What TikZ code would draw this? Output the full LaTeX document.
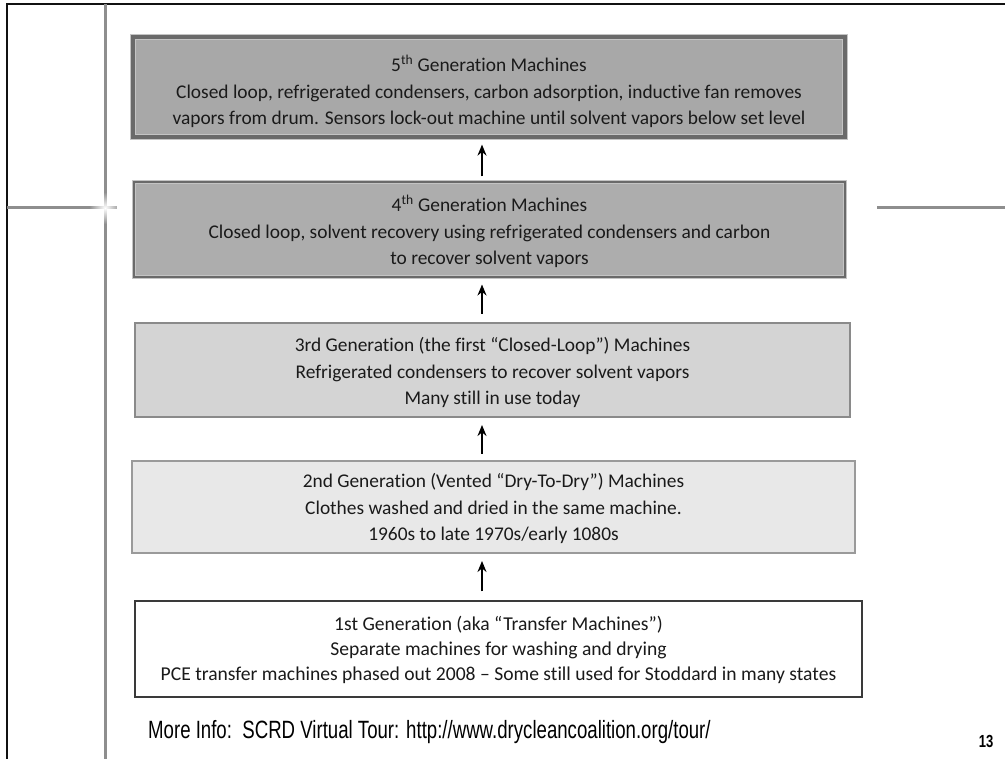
\documentclass[tikz,border=0pt]{standalone}
\usepackage{fontspec}
\setmainfont[Ligatures=NoCommon]{Carlito}
\newfontfamily\footfont[FakeStretch=0.745]{Liberation Sans}
\usetikzlibrary{arrows.meta,fadings}
\tikzfading[name=myglow, inner color=transparent!0, outer color=transparent!100]
\definecolor{frameblack}{HTML}{111111}
\definecolor{rulegray}{HTML}{8E8E8E}
\definecolor{lightedge}{HTML}{C4C4C4}
\definecolor{darkband}{HTML}{6A6A6A}
\definecolor{fillfive}{HTML}{A8A8A8}
\definecolor{fillfour}{HTML}{ADADAD}
\definecolor{edgethree}{HTML}{8A8A8A}
\definecolor{fillthree}{HTML}{D4D4D4}
\definecolor{edgetwo}{HTML}{9A9A9A}
\definecolor{filltwo}{HTML}{E8E8E8}
\definecolor{edgeone}{HTML}{3A3A3A}
\definecolor{textgray}{HTML}{1A1A1A}
\tikzset{
  genbox/.style={rectangle, align=center, inner sep=0pt, text=textgray,
    font=\fontsize{19.4}{26.5}\selectfont},
  boxfive/.style={genbox, fill=fillfive, draw=lightedge, line width=1.2pt, double=darkband, double distance=4pt},
  boxfour/.style={genbox, fill=fillfour, draw=lightedge, line width=1pt, double=darkband, double distance=2.4pt},
  boxthree/.style={genbox, fill=fillthree, draw=edgethree, line width=2pt},
  boxtwo/.style={genbox, fill=filltwo, draw=edgetwo, line width=2pt},
  boxone/.style={genbox, fill=white, draw=edgeone, line width=1.5pt,
    font=\fontsize{19.6}{25}\selectfont},
  uparrow/.style={-{Stealth[length=11pt,width=9pt]}, line width=1.7pt, black},
  framerule/.style={frameblack, line width=2pt},
  grayrule/.style={rulegray, line width=3pt},
}
\begin{document}
\begin{tikzpicture}[x=1pt,y=-1pt]
\useasboundingbox (0,0) rectangle (1005,759);
% slide frame
\draw[framerule] (7,759) -- (7,4) -- (1005,4);
\draw[grayrule] (105,4) -- (105,759);
\draw[grayrule] (7,208) -- (117,208);
\draw[grayrule] (877,208) -- (1005,208);
\fill[white, path fading=myglow] (105,208) circle (16);
% boxes
\node[boxfive, minimum width=712pt, minimum height=100pt] (b5) at (489,87)
  {\rule{0pt}{26pt}5\textsuperscript{th} Generation Machines\\
   Closed loop, refrigerated condensers, carbon adsorption, inductive fan removes\\
   vapors from drum. Sensors lock-out machine until solvent vapors below set level};
\node[boxfour, minimum width=711pt, minimum height=95pt] (b4) at (489.5,229.5)
  {\rule{0pt}{21pt}4\textsuperscript{th} Generation Machines\\
   Closed loop, solvent recovery using refrigerated condensers and carbon\\
   to recover solvent vapors};
\node[boxthree, minimum width=715pt, minimum height=94pt] (b3) at (492.5,370)
  {\rule{0pt}{20pt}3rd Generation (the first “Closed-Loop”) Machines\\
   Refrigerated condensers to recover solvent vapors\\
   Many still in use today};
\node[boxtwo, minimum width=723pt, minimum height=92pt] (b2) at (493.5,507)
  {\rule{0pt}{18pt}2nd Generation (Vented “Dry-To-Dry”) Machines\\
   Clothes washed and dried in the same machine.\\
   1960s to late 1970s/early 1080s};
\node[boxone, minimum width=727pt, minimum height=96pt] (b1) at (498.5,649)
  {\rule{0pt}{17pt}1st Generation (aka “Transfer Machines”)\\
   Separate machines for washing and drying\\
   PCE transfer machines phased out 2008 – Some still used for Stoddard in many states};
% arrows
\draw[uparrow] ([xshift=-16.5pt,yshift=9pt]b1.north) -- ([xshift=-11.5pt,yshift=-7pt]b2.south);
\draw[uparrow] ([xshift=-11.5pt,yshift=6pt]b2.north) -- ([xshift=-10.5pt,yshift=-7pt]b3.south);
\draw[uparrow] ([xshift=-10.5pt,yshift=8pt]b3.north) -- ([xshift=-7.5pt,yshift=-7pt]b4.south);
\draw[uparrow] ([xshift=-7.5pt,yshift=5pt]b4.north) -- ([xshift=-7pt,yshift=-7pt]b5.south);
% footer
\node[font=\footfont\fontsize{25}{28}\selectfont, inner sep=0pt, anchor=west] (info) at (148,732)
  {More Info:\ \ SCRD Virtual Tour: http://www.drycleancoalition.org/tour/};
\node[font=\footfont\bfseries\fontsize{17.5}{19}\selectfont, inner sep=0pt] (pagenum) at (986,741) {13};
\end{tikzpicture}
\end{document}
